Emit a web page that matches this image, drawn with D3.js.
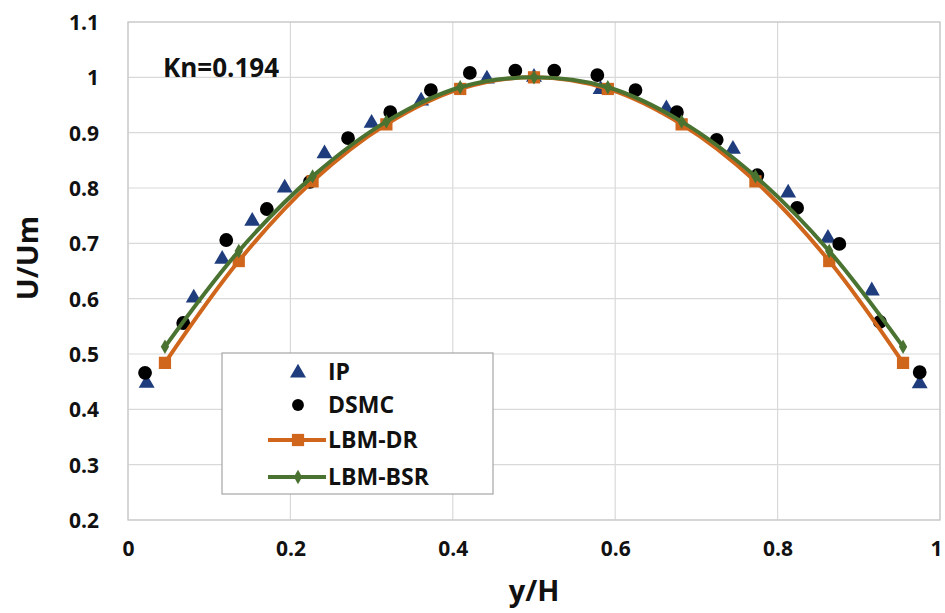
<!DOCTYPE html>
<html>
<head>
<meta charset="utf-8">
<script src="https://cdn.jsdelivr.net/npm/d3@7"></script>
<style>
  html, body { margin: 0; padding: 0; background: #fff; }
  svg { display: block; font-family: "Open Sans", "Noto Sans", sans-serif; }
</style>
</head>
<body>
<svg id="chart" width="945" height="613"></svg>
<script>
// Normalised velocity profiles across the channel, Kn = 0.194
const ipX   = [0.023, 0.081, 0.116, 0.153, 0.193, 0.242, 0.300, 0.361, 0.442, 0.500, 0.582, 0.663, 0.745, 0.813, 0.862, 0.916, 0.975];
const ipU   = [0.449, 0.603, 0.673, 0.742, 0.802, 0.864, 0.919, 0.959, 0.999, 1.002, 0.980, 0.945, 0.872, 0.793, 0.711, 0.616, 0.448];

const dsmcX = [0.021, 0.068, 0.121, 0.171, 0.224, 0.271, 0.323, 0.373, 0.421, 0.477, 0.525, 0.578, 0.625, 0.676, 0.725, 0.775, 0.824, 0.876, 0.926, 0.975];
const dsmcU = [0.466, 0.556, 0.706, 0.762, 0.811, 0.890, 0.937, 0.977, 1.008, 1.012, 1.012, 1.004, 0.977, 0.937, 0.887, 0.823, 0.764, 0.699, 0.558, 0.467];

const lbmX  = [0.0455, 0.1364, 0.2273, 0.3182, 0.4091, 0.5, 0.5909, 0.6818, 0.7727, 0.8636, 0.9545];
const drU   = [0.484, 0.668, 0.812, 0.915, 0.979, 1.000, 0.979, 0.915, 0.812, 0.668, 0.484];
const bsrU  = [0.513, 0.686, 0.821, 0.920, 0.982, 1.000, 0.982, 0.920, 0.821, 0.686, 0.513];

const xTicks = [0, 0.2, 0.4, 0.6, 0.8, 1];
const yTicks = [0.2, 0.3, 0.4, 0.5, 0.6, 0.7, 0.8, 0.9, 1, 1.1];

const seriesNames = ["IP", "DSMC", "LBM-DR", "LBM-BSR"];

const colors = {
  ip: "#1f3c7d",
  dsmc: "#000000",
  dr: "#d0661c",
  bsr: "#4a7332",
  grid: "#d9d9d9"
};

const svg = d3.select("#chart");
const plotL = 128, plotR = 940, plotT = 22, plotB = 520;

const x = d3.scaleLinear().domain([0, 1]).range([plotL, plotR]);
const y = d3.scaleLinear().domain([0.2, 1.1]).range([plotB, plotT]);

// grid
const gx = svg.append("g");
gx.selectAll("line.v").data(xTicks).join("line")
  .attr("x1", d => x(d)).attr("x2", d => x(d))
  .attr("y1", plotT).attr("y2", plotB)
  .attr("stroke", colors.grid).attr("stroke-width", 1.2);
gx.selectAll("line.h").data(yTicks).join("line")
  .attr("x1", plotL).attr("x2", plotR)
  .attr("y1", d => y(d)).attr("y2", d => y(d))
  .attr("stroke", colors.grid).attr("stroke-width", 1.2);
svg.append("rect").attr("x", plotL).attr("y", plotT)
  .attr("width", plotR - plotL).attr("height", plotB - plotT)
  .attr("fill", "none").attr("stroke", "#c8c8c8").attr("stroke-width", 1.2);

// axes (labels only, as in a spreadsheet chart)
const xAxis = d3.axisBottom(x).tickValues(xTicks).tickSize(0).tickPadding(0)
  .tickFormat(d => String(+d.toFixed(1)));
const xa = svg.append("g").attr("transform", `translate(0,${plotB + 30})`).call(xAxis);
xa.select(".domain").remove();
xa.selectAll("text").attr("font-size", 21).attr("font-weight", "bold")
  .attr("fill", "#111").attr("font-family", "Open Sans, sans-serif").attr("dy", "0.3em")
  .attr("dx", d => d === 1 ? -4 : 0);

const yAxis = d3.axisLeft(y).tickValues(yTicks).tickSize(0).tickPadding(0)
  .tickFormat(d => String(+d.toFixed(1)));
const ya = svg.append("g").attr("transform", `translate(${plotL - 29},0)`).call(yAxis);
ya.select(".domain").remove();
ya.selectAll("text").attr("font-size", 21).attr("font-weight", "bold")
  .attr("fill", "#111").attr("font-family", "Open Sans, sans-serif").attr("dy", "0.35em");

// axis titles
svg.append("text").attr("x", x(0.5)).attr("y", 601)
  .attr("text-anchor", "middle").attr("font-size", 29).attr("font-weight", "bold")
  .attr("fill", "#111").text("y/H");
svg.append("text").attr("transform", `translate(38,${258}) rotate(-90)`)
  .attr("text-anchor", "middle").attr("font-size", 29).attr("font-weight", "bold")
  .attr("fill", "#111").text("U/Um");

// annotation
svg.append("text").attr("x", 163).attr("y", 77)
  .attr("font-size", 26).attr("font-weight", "bold").attr("fill", "#111").text("Kn=0.194");

// markers
const tri = d3.symbol().type(d3.symbolTriangle).size(110);
const circ = d3.symbol().type(d3.symbolCircle).size(150);
const sq = d3.symbol().type(d3.symbolSquare).size(150);
const dia = d3.symbol().type(d3.symbolDiamond).size(60);

const ipData = ipX.map((v, i) => [v, ipU[i]]);
const dsmcData = dsmcX.map((v, i) => [v, dsmcU[i]]);
const drData = lbmX.map((v, i) => [v, drU[i]]);
const bsrData = lbmX.map((v, i) => [v, bsrU[i]]);

svg.append("g").selectAll("path").data(ipData).join("path")
  .attr("d", tri).attr("fill", colors.ip)
  .attr("transform", d => `translate(${x(d[0])},${y(d[1]) + 1})`);

svg.append("g").selectAll("path").data(dsmcData).join("path")
  .attr("d", circ).attr("fill", colors.dsmc)
  .attr("transform", d => `translate(${x(d[0])},${y(d[1])})`);

const line = d3.line().x(d => x(d[0])).y(d => y(d[1])).curve(d3.curveCatmullRom.alpha(0.5));

svg.append("path").datum(drData).attr("d", line)
  .attr("fill", "none").attr("stroke", colors.dr).attr("stroke-width", 4);
svg.append("g").selectAll("path").data(drData).join("path")
  .attr("d", sq).attr("fill", colors.dr)
  .attr("transform", d => `translate(${x(d[0])},${y(d[1])})`);

svg.append("path").datum(bsrData).attr("d", line)
  .attr("fill", "none").attr("stroke", colors.bsr).attr("stroke-width", 4);
svg.append("g").selectAll("path").data(bsrData).join("path")
  .attr("d", dia).attr("fill", colors.bsr)
  .attr("transform", d => `translate(${x(d[0])},${y(d[1])})`);

// legend
const lg = svg.append("g");
lg.append("rect").attr("x", 222).attr("y", 353).attr("width", 271).attr("height", 141)
  .attr("fill", "#fff").attr("stroke", "#a6a6a6").attr("stroke-width", 1.2);
const rows = [372, 405, 440, 477];
const mx = 298;
lg.append("path").attr("d", tri).attr("fill", colors.ip)
  .attr("transform", `translate(${mx},${rows[0] + 1})`);
lg.append("path").attr("d", d3.symbol().type(d3.symbolCircle).size(110)).attr("fill", colors.dsmc)
  .attr("transform", `translate(${mx},${rows[1]})`);
lg.append("line").attr("x1", 268).attr("x2", 326).attr("y1", rows[2]).attr("y2", rows[2])
  .attr("stroke", colors.dr).attr("stroke-width", 4);
lg.append("path").attr("d", sq).attr("fill", colors.dr)
  .attr("transform", `translate(${mx},${rows[2]})`);
lg.append("line").attr("x1", 268).attr("x2", 326).attr("y1", rows[3]).attr("y2", rows[3])
  .attr("stroke", colors.bsr).attr("stroke-width", 4);
lg.append("path").attr("d", dia).attr("fill", colors.bsr)
  .attr("transform", `translate(${mx},${rows[3]})`);
lg.selectAll("text.lab").data(seriesNames).join("text")
  .attr("x", 328).attr("y", (d, i) => rows[i]).attr("dy", "0.36em")
  .attr("font-size", 23).attr("font-weight", "bold").attr("fill", "#111")
  .text(d => d);
</script>
</body>
</html>
